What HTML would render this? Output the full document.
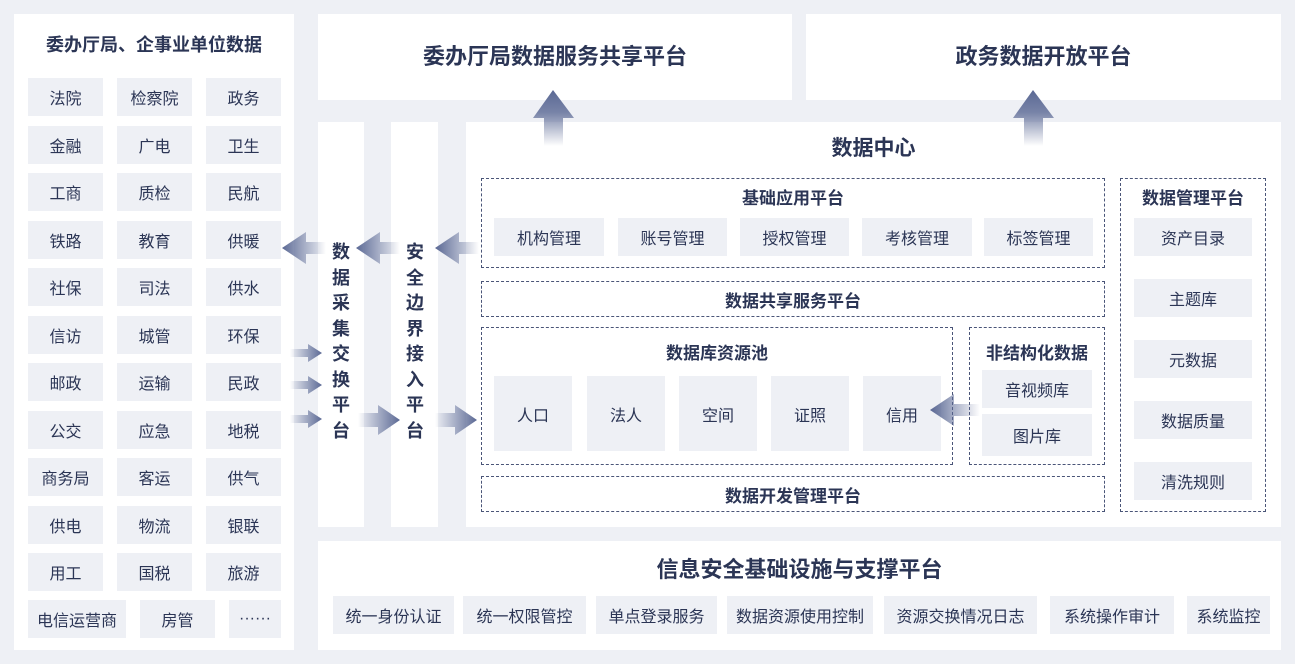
<!DOCTYPE html><html><head><meta charset="utf-8"><style>
*{margin:0;padding:0;box-sizing:border-box}
body{width:1295px;height:664px;background:#eef0f5;position:relative;font-family:"Liberation Sans","Noto Sans CJK SC",sans-serif;color:#2b3555;overflow:hidden}
.a{position:absolute}
.w{position:absolute;background:#fff}
.c{position:absolute;background:#eef0f5;display:flex;align-items:center;justify-content:center;font-size:16px;white-space:nowrap}
.d{position:absolute;border:1.5px dashed #4a5578}
.t{position:absolute;text-align:center;font-weight:bold}
.v{position:absolute;font-size:18px;font-weight:bold;line-height:25.5px;width:20px;text-align:center}
</style></head><body>
<div class="w" style="left:14px;top:14px;width:280px;height:636px"></div>
<div class="t" style="left:14px;top:31px;width:280px;font-size:18px">委办厅局、企事业单位数据</div>
<div class="w" style="left:318px;top:14px;width:474px;height:86px"></div>
<div class="t" style="left:318px;top:39px;width:474px;font-size:22px">委办厅局数据服务共享平台</div>
<div class="w" style="left:806px;top:14px;width:475px;height:86px"></div>
<div class="t" style="left:806px;top:39px;width:475px;font-size:22px">政务数据开放平台</div>
<div class="w" style="left:318px;top:122px;width:46px;height:405px"></div>
<div class="w" style="left:391px;top:122px;width:47px;height:405px"></div>
<div class="w" style="left:466px;top:122px;width:815px;height:405px"></div>
<div class="w" style="left:318px;top:541px;width:963px;height:109px"></div>
<div class="v" style="left:331px;top:240px">数据采集交换平台</div>
<div class="v" style="left:405px;top:240px">安全边界接入平台</div>
<div class="t" style="left:466px;top:132px;width:815px;font-size:21px">数据中心</div>
<div class="d" style="left:481px;top:178px;width:624px;height:90px"></div>
<div class="t" style="left:481px;top:184px;width:624px;font-size:17px">基础应用平台</div>
<div class="d" style="left:481px;top:281px;width:624px;height:36px"></div>
<div class="t" style="left:481px;top:287px;width:624px;font-size:17px">数据共享服务平台</div>
<div class="d" style="left:481px;top:327px;width:472px;height:138px"></div>
<div class="t" style="left:481px;top:339px;width:472px;font-size:17px">数据库资源池</div>
<div class="d" style="left:969px;top:327px;width:136px;height:138px"></div>
<div class="t" style="left:969px;top:339px;width:136px;font-size:17px">非结构化数据</div>
<div class="d" style="left:481px;top:476px;width:624px;height:36px"></div>
<div class="t" style="left:481px;top:482px;width:624px;font-size:17px">数据开发管理平台</div>
<div class="d" style="left:1120px;top:178px;width:146px;height:334px"></div>
<div class="t" style="left:1120px;top:184px;width:146px;font-size:17px">数据管理平台</div>
<div class="t" style="left:318px;top:552px;width:963px;font-size:22px">信息安全基础设施与支撑平台</div>
<div id="cells"></div>
<svg class="a" style="left:0;top:0" width="1295" height="664">
<defs>
<linearGradient id="gu" x1="0" y1="1" x2="0" y2="0"><stop offset="0" stop-color="#5a6894" stop-opacity="0"/><stop offset=".6" stop-color="#5a6894" stop-opacity=".8"/><stop offset="1" stop-color="#5a6894"/></linearGradient>
<linearGradient id="gl" x1="1" y1="0" x2="0" y2="0"><stop offset="0" stop-color="#5a6894" stop-opacity="0"/><stop offset="1" stop-color="#5a6894"/></linearGradient>
<linearGradient id="gr" x1="0" y1="0" x2="1" y2="0"><stop offset="0" stop-color="#5a6894" stop-opacity="0"/><stop offset="1" stop-color="#5a6894"/></linearGradient>
</defs>
<g fill="url(#gu)">
<polygon points="553,90 574,118 563,118 563,146 544,146 544,118 533,118"/>
<polygon points="1033,90 1054,118 1043,118 1043,146 1024,146 1024,118 1013,118"/>
</g>
<g fill="url(#gl)">
<polygon points="282,248 306,232 306,242 326,242 326,254 306,254 306,264"/>
<polygon points="356,248 380,232 380,242 400,242 400,254 380,254 380,264"/>
<polygon points="435,248 459,232 459,242 479,242 479,254 459,254 459,264"/>
<polygon points="930,410 954,394 954,404 980,404 980,416 954,416 954,426"/>
</g>
<g fill="url(#gr)">
<polygon points="322,353 308,344 308,349 290,349 290,357 308,357 308,362"/>
<polygon points="322,385 308,376 308,381 290,381 290,389 308,389 308,394"/>
<polygon points="322,419 308,410 308,415 290,415 290,423 308,423 308,428"/>
<polygon points="400,420 378,405 378,413 358,413 358,427 378,427 378,435"/>
<polygon points="477,420 455,405 455,413 435,413 435,427 455,427 455,435"/>
</g>
</svg>
<script>
var h='',L=[["法院","检察院","政务"],["金融","广电","卫生"],["工商","质检","民航"],["铁路","教育","供暖"],["社保","司法","供水"],["信访","城管","环保"],["邮政","运输","民政"],["公交","应急","地税"],["商务局","客运","供气"],["供电","物流","银联"],["用工","国税","旅游"]];
var xs=[28,117,206];
function box(x,y,w,hh,t){h+='<div class="c" style="left:'+x+'px;top:'+y+'px;width:'+w+'px;height:'+hh+'px">'+t+'</div>';}
L.forEach(function(r,i){r.forEach(function(t,j){box(xs[j],78+i*47.5,75,38,t);});});
box(28,600,98,38,"电信运营商");box(140,600,75,38,"房管");box(229,600,52,38,"······");
[[494,"机构管理",110],[618,"账号管理",109],[740,"授权管理",109],[862,"考核管理",110],[984,"标签管理",109]].forEach(function(a){box(a[0],218,a[2],38,a[1]);});
[[494,"人口"],[587,"法人"],[679,"空间"],[771,"证照"],[863,"信用"]].forEach(function(a){box(a[0],376,78,75,a[1]);});
box(982,370,110,38,"音视频库");box(982,414,110,42,"图片库");
["资产目录","主题库","元数据","数据质量","清洗规则"].forEach(function(t,i){box(1134,218+i*61,118,38,t);});
[[333,121,"统一身份认证"],[463,123,"统一权限管控"],[596,121,"单点登录服务"],[727,146,"数据资源使用控制"],[884,153,"资源交换情况日志"],[1050,124,"系统操作审计"],[1187,83,"系统监控"]].forEach(function(a){box(a[0],596,a[1],38,a[2]);});
document.getElementById('cells').innerHTML=h;
</script>
</body></html>
